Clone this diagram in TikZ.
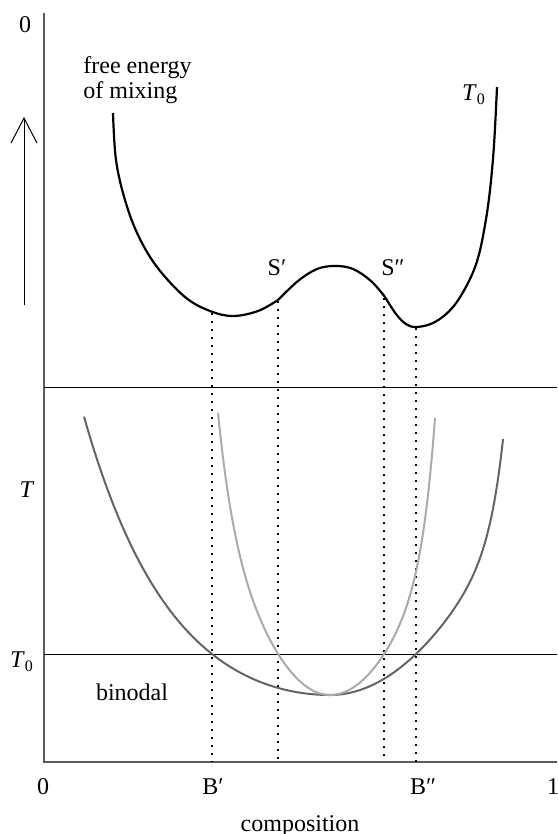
\documentclass[tikz,border=0pt]{standalone}
\usepackage{fontspec}
\setmainfont{Liberation Serif}
\usepackage{tikz}
\usetikzlibrary{arrows.meta, positioning}
\definecolor{axisgray}{RGB}{90,90,90}
\definecolor{binodgray}{RGB}{100,100,100}
\definecolor{spingray}{RGB}{170,170,170}
\tikzset{
  axis/.style={draw=axisgray, line width=0.8pt},
  rule/.style={draw=black, line width=0.5pt},
  guide/.style={draw=black, line width=0.6pt, dash pattern=on 1.2pt off 2.8pt},
  fcurve/.style={draw=black, line width=1.1pt, line join=round},
  binod/.style={draw=binodgray, line width=1pt},
  spin/.style={draw=spingray, line width=1pt},
  lbl/.style={font=\fontsize{12}{12.5}\selectfont, inner sep=0pt}
}
\begin{document}
\begin{tikzpicture}[x=0.5pt, y=-0.5pt]
  \useasboundingbox (0,0) rectangle (557,834);

  % Axes and horizontal rules
  \draw[axis] (44,13) -- (44,762) -- (557,762);
  \draw[rule] (44,387) -- (557,387);
  \draw[rule] (44,654) -- (557,654);

  % Upward arrow
  \coordinate (tail) at (24,305);
  \coordinate (tip) at (24,117);
  \draw[line width=0.5pt, -{Straight Barb[length=12.5pt, width=13pt]}] (tail) -- (tip);

  % Dotted guides
  \draw[guide] (212,313) -- (212,762);
  \draw[guide] (278,301) -- (278,762);
  \draw[guide] (384,298) -- (384,762);
  \draw[guide] (416,328) -- (416,762);

  % Free energy of mixing at T0
  \draw[fcurve] plot[smooth, tension=0.6] coordinates {(113,113) (116,160) (125,200) (138,235)
    (157,267) (185,297) (210,311) (233,316) (258,311) (278,300)};
  \draw[fcurve] plot[smooth, tension=0.6] coordinates {(278,300) (298,281) (317,269) (335,266)
    (353,269) (371,281) (385,297)};
  \draw[fcurve] plot[smooth, tension=0.6] coordinates {(385,297) (396,314) (406,324) (417,327)
    (435,322) (453,307) (468,283) (478,258) (485,225) (490,190) (494,145) (497,87)};

  % Binodal (dark) and spinodal (light)
  \draw[binod] plot[domain=84:330, samples=90, smooth] (\x, {695-41.4*(cosh((330-\x)/90)-1)});
  \draw[binod] plot[domain=330:503, samples=90, smooth]
    (\x, {695-41*pow((\x-330)/86,2)-90*pow((\x-330)/173,14)});
  \draw[spin] plot[domain=218:330, samples=80, smooth]
    (\x, {695-0.01516*pow(330-\x,2)-92*pow((330-\x)/112,8)});
  \draw[spin] plot[domain=330:435, samples=80, smooth]
    (\x, {695-0.0139*pow(\x-330,2)-124*pow((\x-330)/105,9)});

  % Labels
  \node[lbl] (zerotop) at (25,25) {0};
  \node[lbl, anchor=west, align=left] (fem) at (83,80) {free energy\\of mixing};
  \node[lbl] (tzerotop) at (474,95) {\textit{T}\textsubscript{0}};
  \node[lbl] (sone) at (277,268) {S′};
  \node[lbl] (stwo) at (393,268) {S″};
  \node[lbl] (tlbl) at (27,490) {\textit{T}};
  \node[lbl] (tzero) at (22,662) {\textit{T}\textsubscript{0}};
  \node[lbl] (binodal) at (132,692) {binodal};
  \node[lbl] (zero) at (43,787) {0};
  \node[lbl] (bone) at (213,787) {B′};
  \node[lbl] (btwo) at (423,787) {B″};
  \node[lbl] (one) at (553,787) {1};
  \node[lbl] (comp) at (300,826) {composition};
\end{tikzpicture}
\end{document}
